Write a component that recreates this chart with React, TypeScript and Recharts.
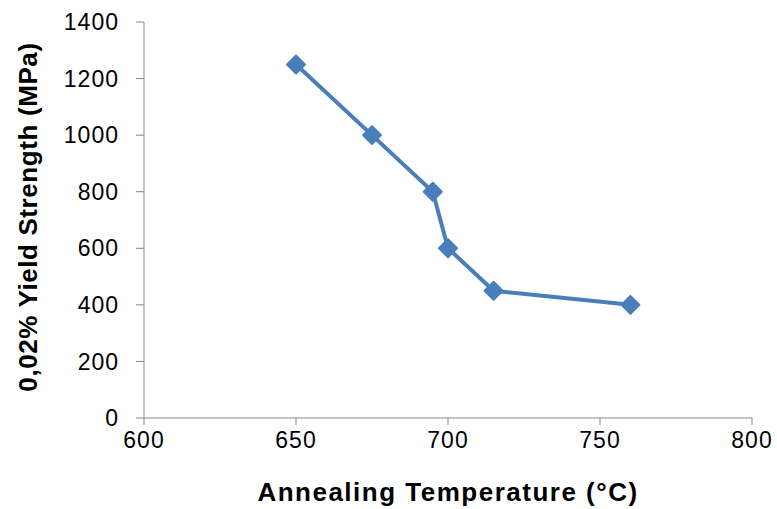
import { Line, LineChart, XAxis, YAxis } from 'recharts'

const temperatures = [650, 675, 695, 700, 715, 760]
const yieldStrength = [1250, 1000, 800, 600, 450, 400]
const xTicks = [600, 650, 700, 750, 800]
const yTicks = [0, 200, 400, 600, 800, 1000, 1200, 1400]

const data = temperatures.map((t, i) => ({ t, ys: yieldStrength[i] }))

const BLUE = '#4a7ebb'
const AXIS = '#868686'
const FONT = '"Liberation Sans", Arial, sans-serif'

function Diamond(props: any) {
  const { cx, cy, index } = props
  if (cx == null || cy == null) return null
  const r = 9
  return (
    <path
      key={index}
      d={`M${cx},${cy - r} L${cx + r},${cy} L${cx},${cy + r} L${cx - r},${cy} Z`}
      fill={BLUE}
      stroke={BLUE}
      strokeWidth={2}
      strokeLinejoin="round"
    />
  )
}

export default function App() {
  const tick = { fontSize: 23, fill: '#000', fontFamily: FONT, letterSpacing: 1 }
  return (
    <div style={{ position: 'absolute', left: 0, top: 0, background: '#fff' }}>
      <LineChart width={777} height={509} data={data} margin={{ top: 22, right: 25, left: 0, bottom: 0 }}>
        <XAxis
          dataKey="t"
          type="number"
          domain={[600, 800]}
          ticks={xTicks}
          height={91}
          tickSize={7}
          tickMargin={7}
          stroke={AXIS}
          tick={tick}
          label={{
            content: (p: any) => {
              const vb = p.viewBox
              return (
                <text
                  x={vb.x + vb.width / 2}
                  y={501}
                  textAnchor="middle"
                  fontFamily={FONT}
                  fontWeight="bold"
                  fontSize={26}
                  letterSpacing={1.5}
                  fill="#000"
                >
                  Annealing Temperature (°C)
                </text>
              )
            },
          }}
        />
        <YAxis
          type="number"
          domain={[0, 1400]}
          ticks={yTicks}
          width={144}
          tickSize={8}
          tickMargin={17}
          stroke={AXIS}
          tick={tick}
          label={{
            content: (p: any) => {
              const vb = p.viewBox
              const cy = vb.y + vb.height / 2 - 3
              return (
                <text
                  x={37}
                  y={cy}
                  textAnchor="middle"
                  transform={`rotate(-90 37 ${cy})`}
                  fontFamily={FONT}
                  fontWeight="bold"
                  fontSize={26}
                  letterSpacing={0.6}
                  fill="#000"
                >
                  0,02% Yield Strength (MPa)
                </text>
              )
            },
          }}
        />
        <Line
          type="linear"
          dataKey="ys"
          stroke={BLUE}
          strokeWidth={4}
          dot={<Diamond />}
          activeDot={false}
          isAnimationActive={false}
        />
      </LineChart>
    </div>
  )
}
